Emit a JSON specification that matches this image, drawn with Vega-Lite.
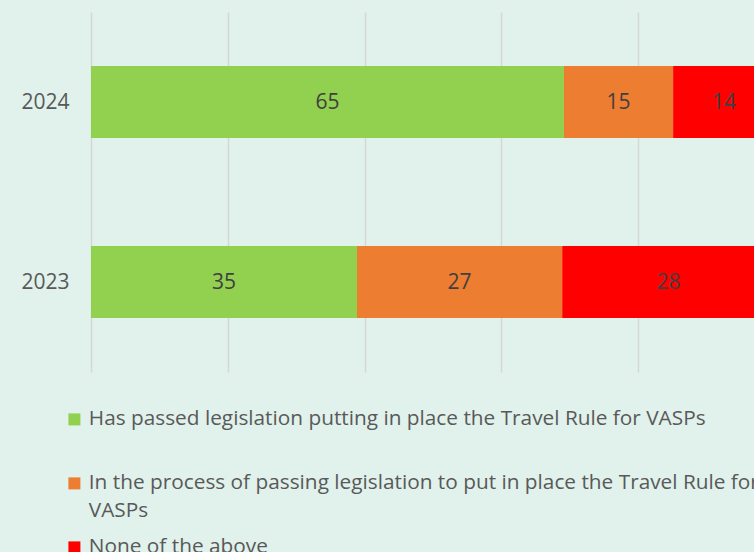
{
  "$schema": "https://vega.github.io/schema/vega-lite/v6.json",
  "width": 663,
  "height": 360,
  "autosize": {"type": "none"},
  "padding": {"left": 91, "top": 12, "right": 0, "bottom": 180},
  "background": "#e0f2eb",
  "config": {"view": {"stroke": null}, "font": "Open Sans"},
  "data": {
    "values": [
      {"year": "2024", "category": "Has passed legislation putting in place the Travel Rule for VASPs", "order": 1, "value": 65},
      {"year": "2024", "category": "In the process of passing legislation to put in place the Travel Rule for VASPs", "order": 2, "value": 15},
      {"year": "2024", "category": "None of the above", "order": 3, "value": 14},
      {"year": "2023", "category": "Has passed legislation putting in place the Travel Rule for VASPs", "order": 1, "value": 35},
      {"year": "2023", "category": "In the process of passing legislation to put in place the Travel Rule for VASPs", "order": 2, "value": 27},
      {"year": "2023", "category": "None of the above", "order": 3, "value": 28}
    ]
  },
  "encoding": {
    "y": {
      "field": "year",
      "type": "nominal",
      "sort": "descending",
      "scale": {"paddingInner": 0.6, "paddingOuter": 0.3},
      "axis": {"title": null, "ticks": false, "domain": false, "labelFontSize": 21, "labelColor": "#595959", "labelPadding": 22, "labelOffset": 1}
    }
  },
  "layer": [
    {
      "mark": {"type": "bar"},
      "encoding": {
        "x": {
          "field": "value",
          "type": "quantitative",
          "stack": "normalize",
          "scale": {"domain": [0, 1], "range": [0, 684]},
          "axis": {"title": null, "labels": false, "ticks": false, "domain": false, "grid": true, "gridColor": "#d6d6d6", "gridWidth": 1.5, "values": [0, 0.2, 0.4, 0.6, 0.8, 1]}
        },
        "order": {"field": "order"},
        "color": {
          "field": "category",
          "type": "nominal",
          "scale": {
            "domain": ["Has passed legislation putting in place the Travel Rule for VASPs", "In the process of passing legislation to put in place the Travel Rule for VASPs", "None of the above"],
            "range": ["#92d050", "#ed7d31", "#ff0000"]
          },
          "legend": {
            "orient": "none",
            "legendX": -27,
            "legendY": 397,
            "direction": "vertical",
            "title": null,
            "symbolType": "square",
            "symbolSize": 144,
            "symbolStrokeWidth": 0,
            "labelFontSize": 20.8,
            "labelColor": "#595959",
            "labelLimit": 0,
            "labelOffset": 4,
            "rowPadding": 14,
            "labelExpr": "indexof(datum.label, 'In the process') == 0 ? ['In the process of passing legislation to put in place the Travel Rule for', 'VASPs'] : [datum.label, ' ']",
            "encode": {"labels": {"update": {"lineHeight": {"value": 28}}}}
          }
        }
      }
    },
    {
      "mark": {"type": "text", "fontSize": 21, "color": "#404040", "dy": 1},
      "encoding": {
        "x": {"field": "value", "type": "quantitative", "stack": "normalize", "bandPosition": 0.5},
        "order": {"field": "order"},
        "detail": {"field": "category"},
        "text": {"field": "value", "type": "quantitative"}
      }
    }
  ]
}
